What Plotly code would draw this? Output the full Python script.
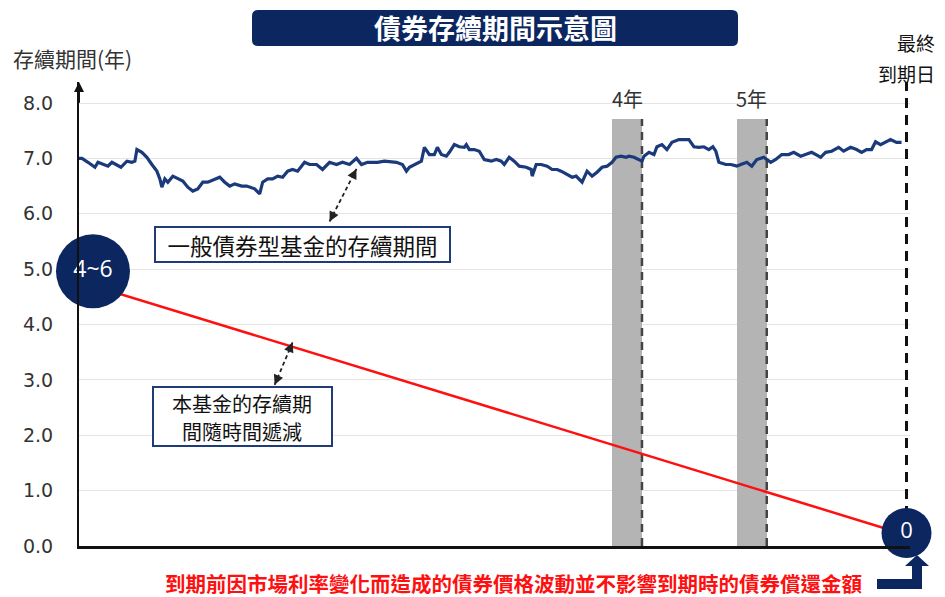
import plotly.graph_objects as go

# ---------------- data ----------------
# general bond fund duration (years) over time (t in years)
bond_t = [0, 0.024, 0.072, 0.128, 0.152, 0.192, 0.232, 0.264, 0.304, 0.336, 0.384, 0.424, 0.448, 0.464,
          0.504, 0.544, 0.584, 0.624, 0.648, 0.664, 0.688, 0.712, 0.752, 0.792, 0.832, 0.872, 0.912, 0.952,
          0.992, 1.032, 1.088, 1.128, 1.168, 1.208, 1.248, 1.304, 1.344, 1.408, 1.448, 1.472, 1.512, 1.552,
          1.592, 1.632, 1.672, 1.712, 1.752, 1.808, 1.848, 1.904, 1.952, 2.008, 2.064, 2.112, 2.168, 2.224,
          2.264, 2.312, 2.352, 2.392, 2.448, 2.504, 2.544, 2.592, 2.624, 2.648, 2.688, 2.744, 2.768, 2.808,
          2.848, 2.872, 2.904, 2.944, 2.968, 3.008, 3.048, 3.088, 3.104, 3.128, 3.168, 3.208, 3.248, 3.304,
          3.344, 3.384, 3.408, 3.448, 3.488, 3.528, 3.584, 3.624, 3.632, 3.664, 3.704, 3.752, 3.792, 3.832,
          3.864, 3.912, 3.952, 3.984, 4.032, 4.072, 4.112, 4.152, 4.192, 4.232, 4.272, 4.304, 4.344, 4.384,
          4.408, 4.448, 4.488, 4.512, 4.528, 4.568, 4.608, 4.632, 4.672, 4.712, 4.752, 4.808, 4.848, 4.888,
          4.928, 4.968, 5.008, 5.048, 5.080, 5.104, 5.128, 5.184, 5.224, 5.272, 5.304, 5.352, 5.392, 5.432,
          5.488, 5.544, 5.584, 5.632, 5.688, 5.728, 5.784, 5.824, 5.872, 5.928, 5.944, 5.984, 6.032, 6.088,
          6.128, 6.184, 6.232, 6.272, 6.312, 6.352, 6.384, 6.424, 6.464, 6.504, 6.552, 6.592]
bond_v = [7.00, 7.00, 6.93, 6.84, 6.93, 6.89, 6.86, 6.93, 6.88, 6.84, 6.95, 6.93, 6.95, 7.16,
          7.11, 7.02, 6.89, 6.77, 6.63, 6.48, 6.63, 6.57, 6.68, 6.63, 6.59, 6.48, 6.41, 6.45,
          6.57, 6.57, 6.63, 6.66, 6.57, 6.50, 6.54, 6.50, 6.50, 6.45, 6.36, 6.57, 6.63, 6.63,
          6.68, 6.66, 6.77, 6.80, 6.77, 6.93, 6.89, 6.89, 6.80, 6.93, 6.89, 6.93, 6.89, 7.00,
          6.89, 6.93, 6.93, 6.93, 6.95, 6.93, 6.93, 6.89, 6.77, 6.84, 6.89, 6.95, 7.20, 7.07,
          7.07, 7.20, 7.07, 7.04, 7.11, 7.25, 7.21, 7.20, 7.25, 7.16, 7.16, 7.13, 6.98, 6.95,
          6.98, 6.95, 6.89, 7.02, 6.95, 6.86, 6.84, 6.80, 6.68, 6.89, 6.89, 6.86, 6.80, 6.80,
          6.77, 6.71, 6.66, 6.68, 6.57, 6.77, 6.68, 6.75, 6.84, 6.86, 6.93, 7.02, 7.04, 7.02,
          7.04, 7.02, 6.98, 6.95, 7.04, 7.11, 7.07, 7.21, 7.25, 7.16, 7.29, 7.34, 7.34, 7.34,
          7.21, 7.20, 7.21, 7.16, 7.21, 7.13, 6.93, 6.89, 6.89, 6.86, 6.89, 6.93, 6.86, 6.98,
          7.02, 6.93, 6.98, 7.07, 7.07, 7.11, 7.04, 7.07, 7.11, 7.04, 7.02, 7.11, 7.13, 7.20,
          7.13, 7.20, 7.16, 7.11, 7.16, 7.16, 7.30, 7.25, 7.29, 7.34, 7.29, 7.29]

# this fund's duration decreasing over time
fund_t = [0, 6.632]
fund_v = [4.78, 0.20]

# circled labels
circle_t = [0.112, 6.632]
circle_v = [4.96, 0.235]
circle_text = ["4~6", "0"]

# highlighted years
year_labels = ["4年", "5年"]
year_start = [4.272, 5.272]
year_end = [4.512, 5.512]
year_top = 7.71

maturity_t = 6.632

y_ticks = [0, 1, 2, 3, 4, 5, 6, 7, 8]

title_text = "債券存續期間示意圖"
y_title = "存續期間(年)"
maturity_lines = ["最終", "到期日"]
bond_label = "一般債券型基金的存續期間"
fund_lines = ["本基金的存續期", "間隨時間遞減"]
note_text = "到期前因市場利率變化而造成的債券價格波動並不影響到期時的債券償還金額"

# ---------------- style ----------------
NAVY = "#0c2660"
BLUE = "#1a3a7c"
RED = "#ff1010"
BOXLINE = "#1f3c78"
CJK = "Noto Sans CJK TC"

OFF = 8  # page body margin
W, H = 945 - OFF, 597 - OFF
L, R, T, B = 79 - OFF, 35, 82 - OFF, 51
PW, PH = W - L - R, H - T - B
X_RANGE = [0, 6.66]
Y_RANGE = [0, 8.38]


def px(xp, yp):
    """page pixel -> paper coords (for decorations only)"""
    fx, fy = xp - OFF, yp - OFF
    return (fx - L) / PW, (H - B - fy) / PH


fig = go.Figure()

# gray year bars
fig.add_trace(go.Bar(
    x=[(s + e) / 2 for s, e in zip(year_start, year_end)],
    y=[year_top] * len(year_start),
    width=[e - s for s, e in zip(year_start, year_end)],
    marker=dict(color="#b4b4b4", line=dict(width=0)),
    hoverinfo="skip", showlegend=False,
))
# dashed lines on right edge of bars
for e in year_end:
    fig.add_trace(go.Scatter(
        x=[e, e], y=[0, year_top], mode="lines",
        line=dict(color="#444444", width=2.5, dash="8px,6px"),
        hoverinfo="skip", showlegend=False,
    ))
# maturity dashed line
fig.add_trace(go.Scatter(
    x=[maturity_t, maturity_t], y=[circle_v[1], Y_RANGE[1]], mode="lines",
    line=dict(color="#111111", width=3, dash="10px,7px"),
    hoverinfo="skip", showlegend=False, cliponaxis=False,
))
# fund line (red)
fig.add_trace(go.Scatter(
    x=fund_t, y=fund_v, mode="lines",
    line=dict(color=RED, width=2.5),
    hoverinfo="skip", showlegend=False,
))
# bond fund line (blue)
fig.add_trace(go.Scatter(
    x=bond_t, y=bond_v, mode="lines",
    line=dict(color=BLUE, width=3.2),
    hoverinfo="skip", showlegend=False,
))
# dashed pointer lines
pointer_lines = [((2.008, 5.86), (2.224, 6.81)), ((1.568, 2.91), (1.712, 3.68))]
for (x0, y0), (x1, y1) in pointer_lines:
    fig.add_trace(go.Scatter(
        x=[x0, x1], y=[y0, y1], mode="lines",
        line=dict(color="#222222", width=1.8, dash="4px,3px"),
        hoverinfo="skip", showlegend=False,
    ))
# circles
fig.add_trace(go.Scatter(
    x=circle_t, y=circle_v, mode="markers+text",
    marker=dict(size=[74, 50], color=NAVY, opacity=1, line=dict(width=0)),
    opacity=1,
    text=circle_text, textposition="middle center",
    textfont=dict(color="white", size=[23, 22], family="Open Sans"),
    cliponaxis=False, hoverinfo="skip", showlegend=False,
))

annotations = []
# arrowheads for pointers (both ends)
for (x0, y0), (x1, y1) in pointer_lines:
    dx, dy = (x1 - x0) * 0.15, (y1 - y0) * 0.15
    annotations.append(dict(x=x1, y=y1, ax=x1 - dx, ay=y1 - dy, axref="x", ayref="y",
                            xref="x", yref="y", text="", showarrow=True,
                            arrowhead=2, arrowsize=1.1, arrowwidth=1.8, arrowcolor="#222222"))
    annotations.append(dict(x=x0, y=y0, ax=x0 + dx, ay=y0 + dy, axref="x", ayref="y",
                            xref="x", yref="y", text="", showarrow=True,
                            arrowhead=2, arrowsize=1.1, arrowwidth=1.8, arrowcolor="#222222"))
# y-axis arrowhead
annotations.append(dict(x=0, y=Y_RANGE[1], ax=0, ay=Y_RANGE[1] - 0.4, axref="x", ayref="y",
                        xref="x", yref="y", text="", showarrow=True,
                        arrowhead=2, arrowsize=1, arrowwidth=2, arrowcolor="#111111"))
# year labels
for lab, s, e in zip(year_labels, year_start, year_end):
    annotations.append(dict(x=(s + e) / 2, y=year_top, xref="x", yref="y", text=lab,
                            showarrow=False, yanchor="bottom", yshift=4,
                            font=dict(family=CJK, size=20, color="#333333")))
# label box 1 (bond fund)
annotations.append(dict(x=1.792, y=5.45, xref="x", yref="y", text=bond_label, showarrow=False,
                        font=dict(family=CJK, size=22.5, color="#111111"),
                        bgcolor="white", bordercolor=BOXLINE, borderwidth=2, borderpad=3,
                        width=287, height=27))
# label box 2 (this fund): box + two text lines
for txt, yy in zip(fund_lines, [403, 431]):
    lx, ly = px(242, yy)
    annotations.append(dict(x=lx, y=ly, xref="paper", yref="paper", text=txt, showarrow=False,
                            xanchor="center", yanchor="middle",
                            font=dict(family=CJK, size=20, color="#111111")))
# title
tx, ty = px(495, 28)
annotations.append(dict(x=tx, y=ty, xref="paper", yref="paper", text=title_text, showarrow=False,
                        xanchor="center", yanchor="middle",
                        font=dict(family=CJK, size=27, color="white", weight="bold")))
# y title
ax_, ay_ = px(11, 58)
annotations.append(dict(x=ax_, y=ay_, xref="paper", yref="paper", text=y_title, showarrow=False,
                        xanchor="left", yanchor="middle",
                        font=dict(family=CJK, size=21, color="#333333")))
# maturity label
for txt, yy in zip(maturity_lines, [43, 73]):
    mx, my = px(936, yy)
    annotations.append(dict(x=mx, y=my, xref="paper", yref="paper", text=txt, showarrow=False,
                            xanchor="right", yanchor="middle", borderpad=0,
                            font=dict(family=CJK, size=19, color="#111111")))
# bottom note
nx, ny = px(513, 583)
annotations.append(dict(x=nx, y=ny, xref="paper", yref="paper", text=note_text, showarrow=False,
                        xanchor="center", yanchor="middle",
                        font=dict(family=CJK, size=20.5, color=RED, weight="bold")))

shapes = []
# title rounded box
x0, y1 = px(252, 10)
x1, y0 = px(738, 46)
rx, ry = 6 / PW, 6 / PH
path = (f"M {x0+rx},{y0} L {x1-rx},{y0} Q {x1},{y0} {x1},{y0+ry} L {x1},{y1-ry} "
        f"Q {x1},{y1} {x1-rx},{y1} L {x0+rx},{y1} Q {x0},{y1} {x0},{y1-ry} "
        f"L {x0},{y0+ry} Q {x0},{y0} {x0+rx},{y0} Z")
shapes.append(dict(type="path", xref="paper", yref="paper", path=path,
                   fillcolor=NAVY, line=dict(width=0), layer="below"))
# box 2 frame
bx0, by1 = px(153, 387)
bx1, by0 = px(332, 446)
shapes.append(dict(type="rect", xref="paper", yref="paper", x0=bx0, x1=bx1, y0=by0, y1=by1,
                   fillcolor="white", line=dict(color=BOXLINE, width=2), layer="above"))
# bent arrow bottom-right
pts = [(877, 579), (912, 579), (912, 566), (905, 566), (917, 555), (929, 566),
       (922, 566), (922, 589), (877, 589)]
pp = [px(a, b) for a, b in pts]
path2 = "M " + " L ".join(f"{a},{b}" for a, b in pp) + " Z"
shapes.append(dict(type="path", xref="paper", yref="paper", path=path2,
                   fillcolor=NAVY, line=dict(width=0)))

fig.update_layout(
    width=W, height=H,
    margin=dict(l=L, r=R, t=T, b=B),
    paper_bgcolor="white", plot_bgcolor="white",
    showlegend=False, bargap=0,
    annotations=annotations, shapes=shapes,
    xaxis=dict(range=X_RANGE, showgrid=False, zeroline=False, showticklabels=False,
               showline=True, linecolor="#111111", linewidth=2.5, ticks=""),
    yaxis=dict(range=Y_RANGE, tickvals=y_ticks, tickformat=".1f",
               showgrid=True, gridcolor="#e4e4e4", gridwidth=1, zeroline=False,
               showline=True, linecolor="#111111", linewidth=2,
               ticks="outside", ticklen=20, tickcolor="rgba(0,0,0,0)",
               tickfont=dict(family="DejaVu Sans", size=19, color="#333333")),
)

fig.write_html("out.html")
